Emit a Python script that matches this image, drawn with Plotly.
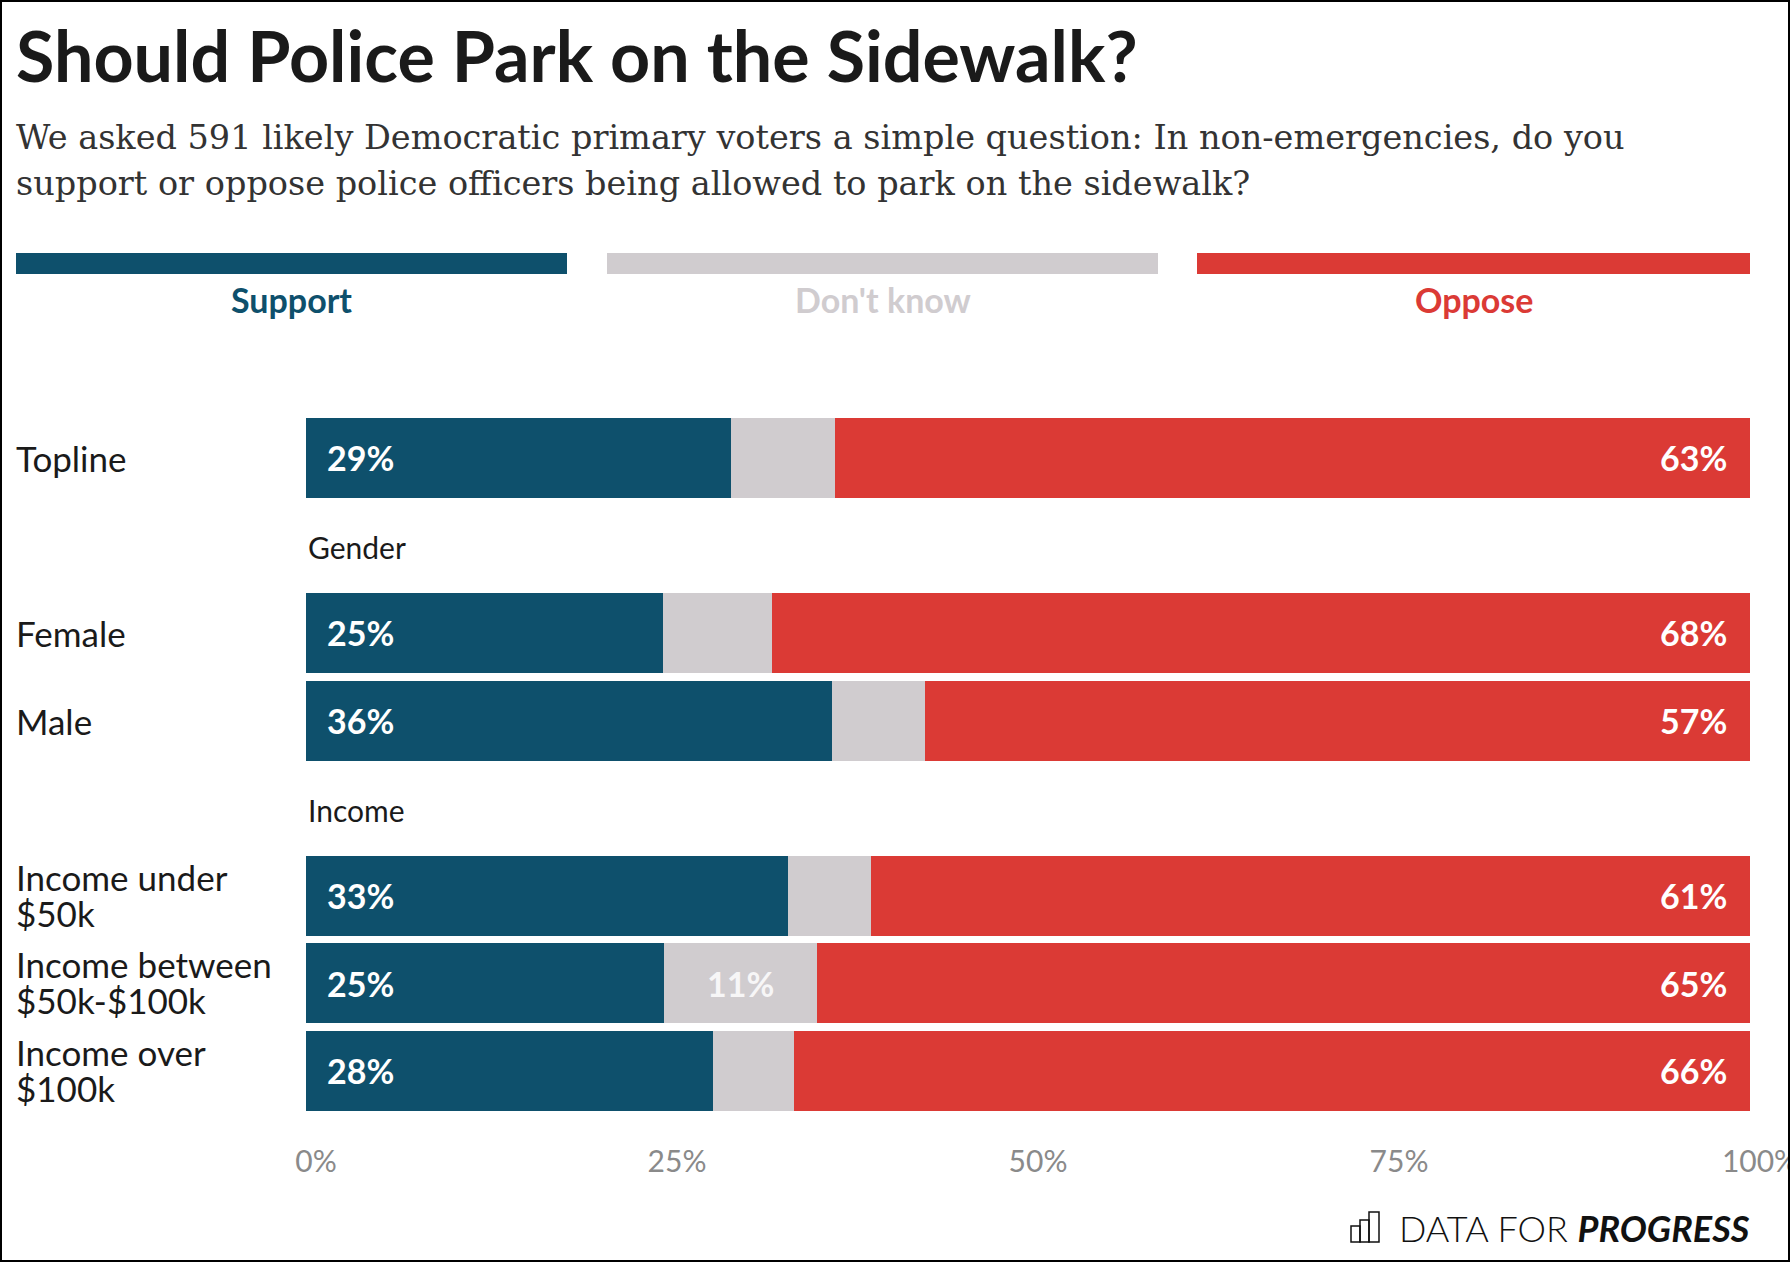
import plotly.graph_objects as go

# ---------------- data ----------------
categories = ["Topline", "Gender", "Female", "Male", "Income",
              "Income under<br>$50k", "Income between<br>$50k-$100k", "Income over<br>$100k"]
group_headers = ["Gender", "Income"]
bar_rows = ["Topline", "Female", "Male",
            "Income under<br>$50k", "Income between<br>$50k-$100k", "Income over<br>$100k"]
support = [29.4, 24.7, 36.4, 33.4, 24.8, 28.2]
dont_know = [7.2, 7.6, 6.5, 5.7, 10.6, 5.6]
oppose = [63.4, 67.7, 57.1, 60.9, 64.6, 66.2]
series_names = ["Support", "Don't know", "Oppose"]
series_colors = ["#0e506c", "#d0cccf", "#db3a35"]
x_ticks = [0, 25, 50, 75, 100]
x_ticklabels = ["0%", "25%", "50%", "75%", "100%"]

title = "Should Police Park on the Sidewalk?"
subtitle_lines = ["We asked 591 likely Democratic primary voters a simple question: In non-emergencies, do you",
                  "support or oppose police officers being allowed to park on the sidewalk?"]

# ---------------- geometry ----------------
W, H = 1790, 1262
L, R, T, B = 306, 40, 414, 121
PW, PH = W - L - R, H - T - B


def px_x(px):
    return (px - L) / PW


def px_y(py):
    return (H - B - py) / PH


SANS = "Lato, 'Open Sans', sans-serif"
SERIF = "'DejaVu Serif', serif"

fig = go.Figure()
for name, vals, col in zip(series_names, [support, dont_know, oppose], series_colors):
    fig.add_trace(go.Bar(
        y=bar_rows, x=vals, name=name, orientation="h",
        marker=dict(color=col, line=dict(width=0)),
        hoverinfo="x+name", showlegend=False,
    ))

ann = []
# value labels
for row, s, d, o in zip(bar_rows, support, dont_know, oppose):
    ann.append(dict(x=0, y=row, xref="x", yref="y", text=f"{round(s)}%", showarrow=False,
                    xanchor="left", yanchor="middle", xshift=19,
                    font=dict(family=SANS, size=34, color="white", weight=700)))
    ann.append(dict(x=100, y=row, xref="x", yref="y", text=f"{round(o)}%", showarrow=False,
                    xanchor="right", yanchor="middle", xshift=-21,
                    font=dict(family=SANS, size=34, color="white", weight=700)))
    if d >= 10:
        ann.append(dict(x=s + d / 2, y=row, xref="x", yref="y", text=f"{round(d)}%", showarrow=False,
                        xanchor="center", yanchor="middle",
                        font=dict(family=SANS, size=34, color="#f7f6f7", weight=700)))

# category labels (left aligned, tight line spacing)
LINE_GAP = 36
for row in bar_rows:
    lines = row.split("<br>")
    n = len(lines)
    for k, ln in enumerate(lines):
        ann.append(dict(x=px_x(14), y=row, xref="paper", yref="y", text=ln, showarrow=False,
                        xanchor="left", yanchor="middle", align="left",
                        yshift=((n - 1) / 2 - k) * LINE_GAP + (1 if n > 1 else 0),
                        font=dict(family=SANS, size=35, color="#1a1a1a")))
# group headers
for g in group_headers:
    ann.append(dict(x=0, y=g, xref="x", yref="y", text=g, showarrow=False,
                    xanchor="left", yanchor="middle", yshift=-2,
                    font=dict(family=SANS, size=30, color="#1a1a1a")))

# title / subtitle
ann.append(dict(x=px_x(14), y=px_y(55), xref="paper", yref="paper", text=f"<b>{title}</b>",
                showarrow=False, xanchor="left", yanchor="middle",
                font=dict(family=SANS, size=70, color="#1a1a1a")))
for i, line in enumerate(subtitle_lines):
    ann.append(dict(x=px_x(14), y=px_y(137 + 46 * i), xref="paper", yref="paper", text=line,
                    showarrow=False, xanchor="left", yanchor="middle",
                    font=dict(family=SERIF, size=33.5, color="#333333")))

# legend header bars + labels
leg_x = [(16, 567), (607, 1158), (1197, 1750)]
shapes = []
for (x0, x1), name, col in zip(leg_x, series_names, series_colors):
    shapes.append(dict(type="rect", xref="paper", yref="paper",
                       x0=px_x(x0), x1=px_x(x1), y0=px_y(274), y1=px_y(253),
                       fillcolor=col, line=dict(width=0)))
    ann.append(dict(x=px_x((x0 + x1) / 2), y=px_y(300), xref="paper", yref="paper", text=name,
                    showarrow=False, xanchor="center", yanchor="middle",
                    font=dict(family=SANS, size=34, color=col, weight=700)))

# footer
ann.append(dict(x=1.0, y=px_y(1228), xref="paper", yref="paper",
                text="DATA FOR <b><i>PROGRESS</i></b>", showarrow=False,
                xanchor="right", yanchor="middle", xshift=2,
                font=dict(family=SANS, size=36, color="#111111", weight=300)))
# footer icon (three outlined bars)
for (bx0, bx1, by0) in [(1351, 1360, 1226), (1360, 1369, 1220), (1369, 1379, 1212)]:
    shapes.append(dict(type="rect", xref="paper", yref="paper",
                       x0=px_x(bx0), x1=px_x(bx1), y0=px_y(1242), y1=px_y(by0),
                       fillcolor="rgba(0,0,0,0)", line=dict(color="#111111", width=1.5)))

# outer border
shapes.append(dict(type="rect", xref="paper", yref="paper",
                   x0=px_x(1), x1=px_x(W - 1), y0=px_y(H - 1), y1=px_y(1),
                   line=dict(color="#000000", width=2), fillcolor="rgba(0,0,0,0)"))

fig.update_layout(
    width=W, height=H,
    margin=dict(l=L, r=R, t=T, b=B, autoexpand=False),
    barmode="stack", bargap=0.086,
    paper_bgcolor="white", plot_bgcolor="white",
    annotations=ann, shapes=shapes,
    xaxis=dict(range=[0, 100], tickvals=x_ticks, ticktext=x_ticklabels,
               showgrid=False, zeroline=False, showline=False, ticks="",
               ticklabelshift=10, ticklabelstandoff=0, ticklabeloverflow="allow",
               tickfont=dict(family=SANS, size=30, color="#8a8a8a"), fixedrange=True),
    yaxis=dict(type="category", categoryorder="array", categoryarray=categories,
               range=[7.8, -0.5], showticklabels=False, showgrid=False,
               zeroline=False, showline=False, ticks="", fixedrange=True),
)

fig.write_html("out.html", config={"displayModeBar": False},
               post_script="document.body.style.margin='0';document.body.style.overflow='hidden';")
